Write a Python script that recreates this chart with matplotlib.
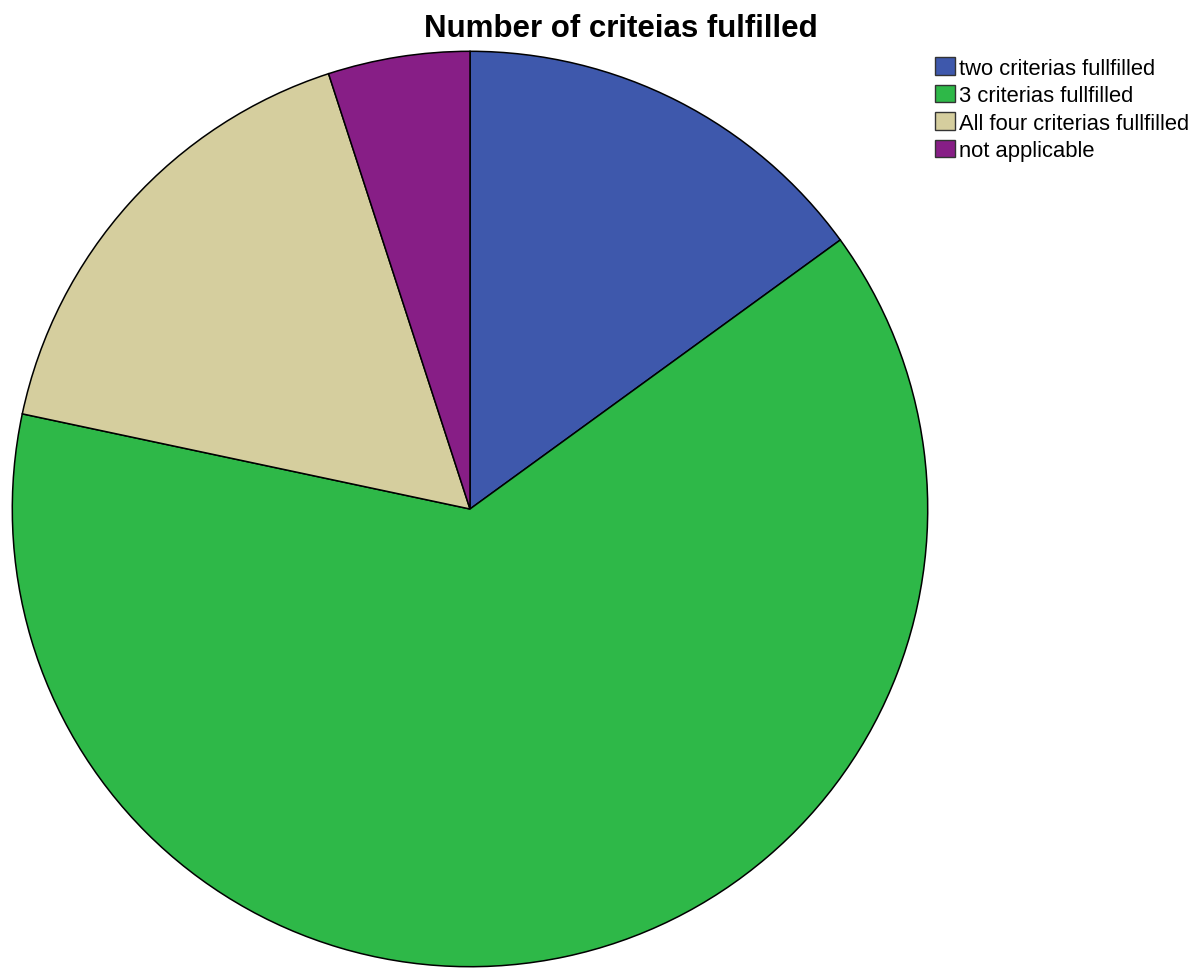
import matplotlib
matplotlib.use('Agg')
import matplotlib.pyplot as plt
from matplotlib.patches import Patch

labels = ['two criterias fullfilled', '3 criterias fullfilled',
          'All four criterias fullfilled', 'not applicable']
counts = [9, 38, 10, 3]
colors = ['#3E58AC', '#2EB848', '#D5CE9E', '#871E86']

plt.rcParams['font.family'] = ['Liberation Sans', 'DejaVu Sans']

fig = plt.figure(figsize=(11.97, 9.70), dpi=100)
ax = fig.add_axes([10/1197, 0.0, 920/1197, 920/970])
ax.pie(counts, colors=colors, startangle=90, counterclock=False, radius=1,
       wedgeprops=dict(edgecolor='black', linewidth=1.1))
ax.set_xlim(-1.005, 1.005); ax.set_ylim(-1.005, 1.005)
ax.set_aspect('equal')
ax.axis('off')

fig.text(621/1197, 1 - 29/970, 'Number of criteias fulfilled', fontsize=22.5,
         fontweight='bold', ha='center', va='center')

handles = [Patch(facecolor=c, edgecolor='#333333', label=l) for c, l in zip(colors, labels)]
fig.legend(handles=handles, loc='upper left', bbox_to_anchor=(933/1197, 1 - 56/970),
           frameon=False, fontsize=15.8, handlelength=0.9, handleheight=0.85,
           handletextpad=0.2, labelspacing=0.28, borderaxespad=0, borderpad=0.1)

plt.savefig('out.png', dpi=100)
plt.close()
